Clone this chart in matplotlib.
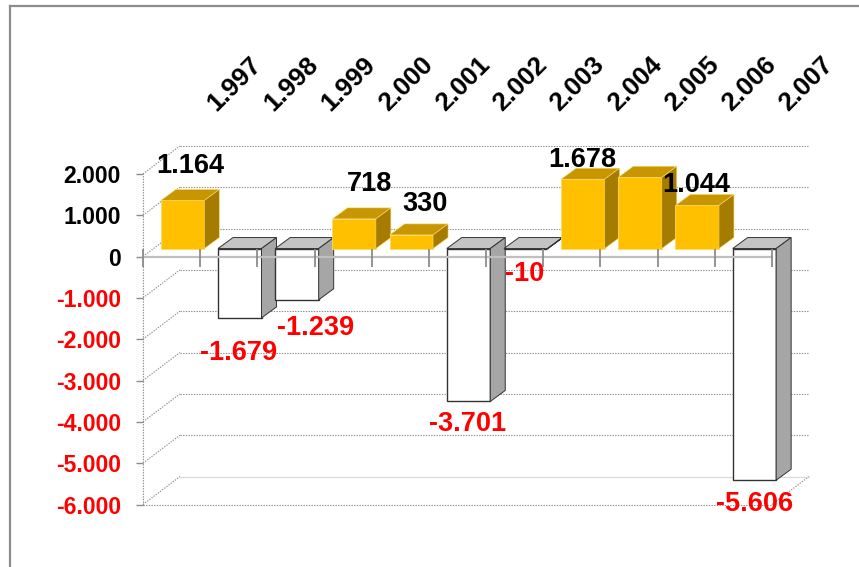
import matplotlib
matplotlib.use("Agg")
import matplotlib.pyplot as plt
from matplotlib.lines import Line2D

plt.rcParams['font.family'] = ['Liberation Sans', 'DejaVu Sans']

years = ['1.997', '1.998', '1.999', '2.000', '2.001', '2.002', '2.003', '2.004', '2.005', '2.006', '2.007']
values = [1164, -1679, -1239, 718, 330, -3701, -10, 1678, 1725, 1044, -5606]
value_labels = ['1.164', '-1.679', '-1.239', '718', '330', '-3.701', '-10', '1.678', '', '1.044', '-5.606']
y_ticks = [2000, 1000, 0, -1000, -2000, -3000, -4000, -5000, -6000]
y_tick_labels = ['2.000', '1.000', '0', '-1.000', '-2.000', '-3.000', '-4.000', '-5.000', '-6.000']

# hand placed label offsets from the bar's end, pixels
label_offsets = [(8, 34), (-1, -35), (19, -28), (15, 35), (14, 31), (-1, -23), (-1, -25), (-1, 19), (0, 0), (-1, 20), (0, -24)]

W, H = 859, 567
PX_X = 57.2        # pixels per category
PX_Y = 41.33 / 1000  # pixels per value unit

# depth of the 3d look, in data units
WALL_DX, WALL_DY = 37 / PX_X, 28 / PX_Y
BAR_DX, BAR_DY = 11 / PX_X, 8 / PX_Y
SIDE_DX, SIDE_DY = 15 / PX_X, 11 / PX_Y
BAR_W = 43.5 / PX_X

GOLD, GOLD_TOP, GOLD_SIDE = '#FFC000', '#C79600', '#A67C00'
WHITE_TOP, WHITE_SIDE = '#C4C4C4', '#A6A6A6'
GRID = '#8C8C8C'
TICK = '#8C8C8C'

fig = plt.figure(figsize=(W / 100, H / 100), dpi=100)
ax = fig.add_axes([143 / W, (H - 504.5) / H, 629 / W, 330.6 / H])
ax.set_xlim(0, 11)
ax.set_ylim(-6000, 2000)
for s in ax.spines.values():
    s.set_visible(False)

# outer frame
fig.add_artist(Line2D([9.5 / W, 9.5 / W], [0, (H - 5.5) / H], color='#8C8C8C', lw=1.6))
fig.add_artist(Line2D([9.5 / W, 1], [(H - 5.5) / H] * 2, color='#8C8C8C', lw=1.6))

# walls
dots = dict(color=GRID, lw=0.8, ls=(0, (1.2, 1.2)), clip_on=False, zorder=1)
for v in y_ticks[:-1]:
    ax.plot([WALL_DX, 11 + WALL_DX], [v + WALL_DY] * 2, **dots)
for v in y_ticks:
    ax.plot([0, WALL_DX], [v, v + WALL_DY], **dots)
ax.plot([0, 0], [-6000, 2000], **dots)
ax.plot([0, 11], [-6000, -6000], **dots)
ax.plot([11, 11 + WALL_DX], [-6000, -6000 + WALL_DY], **dots)
ax.plot([WALL_DX, 11 + WALL_DX], [-6000 + WALL_DY] * 2, color='#D9D9D9', lw=0.8, clip_on=False, zorder=1)

# bars
for i, v in enumerate(values):
    x0 = i + 0.5 + BAR_DX - BAR_W / 2
    x1 = x0 + BAR_W
    base, end = BAR_DY, v + BAR_DY
    top_v = max(base, end)
    low_v = min(base, end)
    if v > 0:
        front, top, side, edge, lw = GOLD, GOLD_TOP, GOLD_SIDE, '#FFD966', 0.6
    else:
        front, top, side, edge, lw = 'white', WHITE_TOP, WHITE_SIDE, '#333333', 1.0
    ax.bar(x0, v, width=BAR_W, bottom=base, align='edge', color=front, edgecolor=edge, lw=lw, clip_on=False, zorder=3)
    ax.fill([x0, x1, x1 + SIDE_DX, x0 + SIDE_DX], [top_v, top_v, top_v + SIDE_DY, top_v + SIDE_DY],
            facecolor=top, edgecolor=edge, lw=lw * 0.7, clip_on=False, zorder=3)
    ax.fill([x1, x1 + SIDE_DX, x1 + SIDE_DX, x1], [top_v, top_v + SIDE_DY, low_v + SIDE_DY, low_v],
            facecolor=side, edgecolor=edge, lw=lw * 0.7, clip_on=False, zorder=3)

# zero line and category ticks sit over the bars
ax.plot([0, 11], [0, 0], color='#BFBFBF', lw=1.6, clip_on=False, zorder=4)
ax.vlines(range(12), -242, BAR_DY, color=TICK, lw=1.3, clip_on=False, zorder=4)

ax.set_xticks([])
ax.set_yticks(y_ticks)
ax.set_yticklabels(y_tick_labels, fontsize=16.6, fontweight='bold')
ax.tick_params(axis='y', length=5, width=1, color=TICK, pad=11)
for lab, v in zip(ax.get_yticklabels(), y_ticks):
    lab.set_color('red' if v < 0 else 'black')
    lab.set_zorder(6)

# year labels along the top
for i, y in enumerate(years):
    ax.annotate(y, (i + 0.5, 2000), xytext=(63, 90), textcoords='offset pixels',
                rotation=45, rotation_mode='default', ha='center', va='center',
                fontsize=18.8, fontweight='bold', color='black', annotation_clip=False, zorder=6)

# value labels
for i, (v, t, off) in enumerate(zip(values, value_labels, label_offsets)):
    if not t:
        continue
    ax.annotate(t, (i + 0.5 + BAR_DX, v + BAR_DY), xytext=off, textcoords='offset pixels',
                ha='center', va='center', fontsize=19.5, fontweight='bold',
                color='red' if v < 0 else 'black', annotation_clip=False, zorder=6)

fig.savefig('out.png', dpi=100)
